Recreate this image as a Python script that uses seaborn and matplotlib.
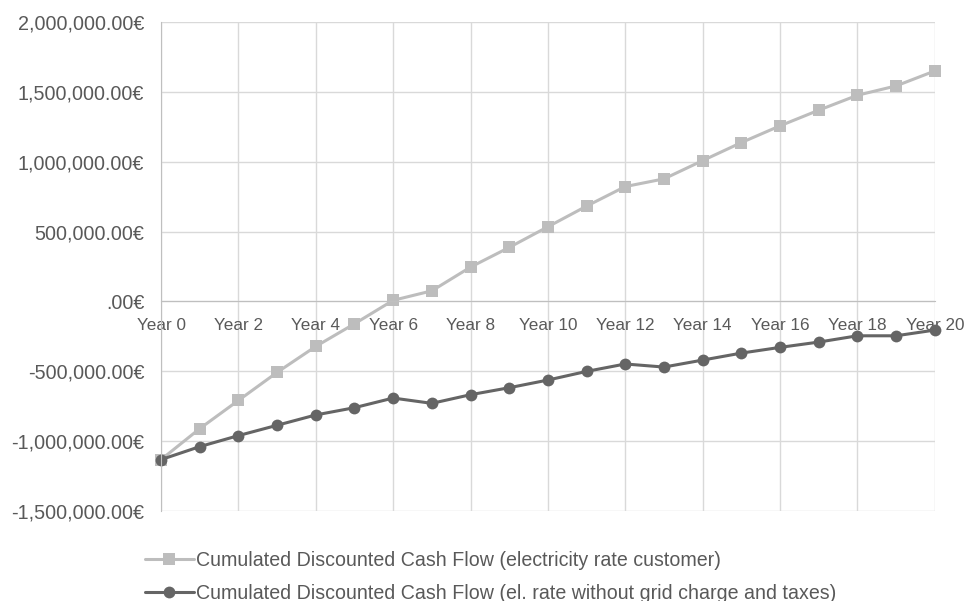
import matplotlib
matplotlib.use("Agg")
import matplotlib.pyplot as plt
import matplotlib.ticker as mticker
import seaborn as sns
import pandas as pd

# data
years = list(range(21))
year_labels = ["Year %d" % y for y in years]
cdcf_customer = [-1133000, -911000, -709000, -508000, -322000, -160000, 8000,
                 76000, 246000, 387000, 535000, 683000, 823000, 878000,
                 1009000, 1138000, 1258000, 1370000, 1477000, 1544000, 1651000]
cdcf_no_grid = [-1133000, -1040000, -961000, -887000, -813000, -761000, -692000,
                -730000, -668000, -618000, -563000, -501000, -448000, -470000,
                -420000, -370000, -329000, -291000, -246000, -246000, -205000]

name_a = "Cumulated Discounted Cash Flow (electricity rate customer)"
name_b = "Cumulated Discounted Cash Flow (el. rate without grid charge and taxes)"

df = pd.DataFrame({
    "year": years + years,
    "value": cdcf_customer + cdcf_no_grid,
    "series": [name_a] * len(years) + [name_b] * len(years),
})

sns.set_style("white")
plt.rcParams["font.family"] = ["Liberation Sans", "DejaVu Sans"]

fig = plt.figure(figsize=(9.66, 6.01), dpi=100)
ax = fig.add_axes([0.1667, 0.150, 0.801, 0.813])

sns.lineplot(data=df, x="year", y="value", hue="series", style="series",
             markers={name_a: "s", name_b: "o"}, dashes=False,
             palette={name_a: "#bdbdbd", name_b: "#656565"},
             linewidth=2.2, markersize=8.5, markeredgewidth=0, ax=ax)
for line in ax.lines:
    line.set_clip_on(False)

ax.set_xlim(0, 20)
ax.set_ylim(-1500000, 2000000)
ax.set_xticks(years[::2])
ax.set_xticklabels(year_labels[::2])
ax.yaxis.set_major_locator(mticker.MultipleLocator(500000))

def euro(v, pos):
    if v == 0:
        return ".00€"
    return "{:,.2f}€".format(v)

ax.yaxis.set_major_formatter(mticker.FuncFormatter(euro))
ax.grid(True, color="#d9d9d9", linewidth=1)
ax.set_axisbelow(True)

for s in ["top", "right"]:
    ax.spines[s].set_visible(False)
ax.spines["left"].set_color("#bfbfbf")
ax.spines["bottom"].set_color("#bfbfbf")
ax.spines["bottom"].set_position(("data", 0))

ax.tick_params(axis="y", labelsize=14.2, colors="#bfbfbf", labelcolor="#595959",
               length=5, width=1, direction="out", pad=7)
ax.tick_params(axis="x", labelsize=12.3, colors="#bfbfbf", labelcolor="#595959",
               length=5, width=1, direction="out", pad=7)
ax.set_xlabel("")
ax.set_ylabel("")

ax.legend(loc="upper left", bbox_to_anchor=(-0.031, -0.066), frameon=False,
          fontsize=14.1, labelcolor="#595959", handlelength=2.5,
          handletextpad=0.1, labelspacing=0.7, borderaxespad=0)

fig.savefig("out.png", dpi=100)
